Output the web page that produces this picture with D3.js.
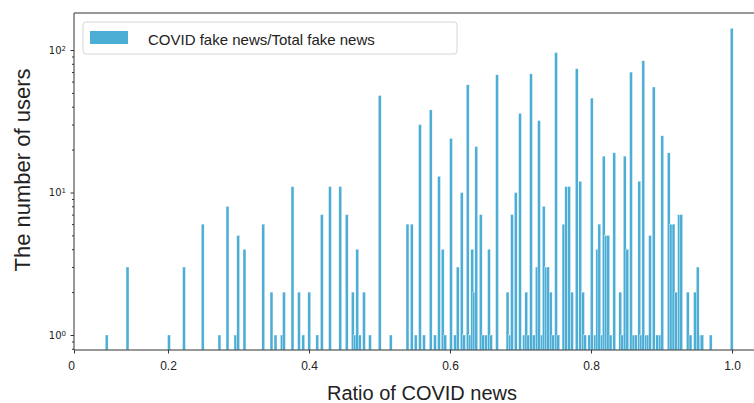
<!DOCTYPE html>
<html>
<head>
<meta charset="utf-8">
<script src="https://cdn.jsdelivr.net/npm/d3@7/dist/d3.min.js"></script>
<style>
  html, body { margin: 0; padding: 0; background: #fff; }
  svg { display: block; font-family: "Liberation Sans", Arial, sans-serif; }
</style>
</head>
<body>
<svg id="chart" width="754" height="403"></svg>
<script>
// Ratio of COVID fake news to total fake news per user (histogram bins, log counts)
const ratios = [
  0.1130, 0.1426, 0.2014, 0.2227, 0.2492, 0.2730, 0.2844, 0.2957, 0.2996, 0.3085,
  0.3352, 0.3468, 0.3525, 0.3614, 0.3645, 0.3766, 0.3858, 0.3919, 0.4004, 0.4118,
  0.4182, 0.4298, 0.4444, 0.4535, 0.4621, 0.4655, 0.4685, 0.4719, 0.4780, 0.4865,
  0.5003, 0.5159, 0.5397, 0.5457, 0.5513, 0.5574, 0.5631, 0.5726, 0.5787, 0.5844,
  0.5896, 0.5933, 0.6014, 0.6071, 0.6109, 0.6166, 0.6199, 0.6251, 0.6284, 0.6316,
  0.6345, 0.6373, 0.6436, 0.6472, 0.6511, 0.6553, 0.6582, 0.6667, 0.6816, 0.6851,
  0.6879, 0.6932, 0.6993, 0.7050, 0.7082, 0.7111, 0.7149, 0.7187, 0.7230, 0.7262,
  0.7301, 0.7329, 0.7357, 0.7390, 0.7428, 0.7465, 0.7504, 0.7536, 0.7610, 0.7648,
  0.7690, 0.7730, 0.7797, 0.7848, 0.7887, 0.7915, 0.7976, 0.8010, 0.8057, 0.8089,
  0.8118, 0.8152, 0.8180, 0.8213, 0.8245, 0.8277, 0.8330, 0.8415, 0.8444, 0.8478,
  0.8515, 0.8567, 0.8603, 0.8638, 0.8685, 0.8709, 0.8742, 0.8780, 0.8809, 0.8837,
  0.8889, 0.8940, 0.8976, 0.9011, 0.9102, 0.9135, 0.9170, 0.9206, 0.9248, 0.9280,
  0.9372, 0.9411, 0.9475, 0.9513, 0.9556, 0.9578, 0.9697, 0.9995
];
const userCounts = [
  1, 3, 1, 3, 6, 1, 8, 1, 5, 4,
  6, 2, 1, 1, 2, 11, 2, 1, 2, 1,
  7, 11, 11, 7, 2, 1, 4, 1, 2, 1,
  48, 1, 6, 6, 1, 30, 1, 38, 1, 13,
  4, 1, 24, 1, 3, 10, 1, 57, 1, 4,
  2, 21, 7, 1, 1, 4, 1, 67, 2, 1,
  7, 10, 36, 1, 2, 1, 68, 1, 3, 32,
  1, 8, 3, 3, 2, 1, 96, 1, 6, 11,
  11, 2, 74, 12, 2, 1, 1, 46, 1, 4,
  6, 1, 18, 5, 5, 1, 19, 2, 1, 18,
  4, 70, 1, 1, 12, 1, 84, 1, 1, 5,
  55, 1, 1, 25, 19, 6, 6, 2, 7, 7,
  2, 1, 2, 3, 1, 1, 1, 142
];
const binWidth = 0.0042;

const xTickValues = [0.2, 0.4, 0.6, 0.8, 1.0];
const yTickValues = [1, 10, 100];
const yMinorTicks = [0.8, 0.9, 2, 3, 4, 5, 6, 7, 8, 9, 20, 30, 40, 50, 60, 70, 80, 90];
const legendLabel = "COVID fake news/Total fake news";
const xTitle = "Ratio of COVID news";
const yTitle = "The number of users";

const barColor = "#4cadd5";
const axisColor = "#333";

const svg = d3.select("#chart");
const plot = { left: 74, right: 756, top: 13, bottom: 350 };

const xMin = 0.0667, xMax = 1.034;
const x = d3.scaleLinear().domain([xMin, xMax]).range([plot.left, plot.right]);
const y = d3.scaleLog().domain([0.7847, 181.8]).range([plot.bottom, plot.top]);

const bins = ratios.map((r, i) => ({ r, n: userCounts[i] }));

svg.append("defs").append("clipPath").attr("id", "plotClip")
  .append("rect")
  .attr("x", plot.left).attr("y", plot.top)
  .attr("width", plot.right - plot.left).attr("height", plot.bottom - plot.top);

// bars
svg.append("g").attr("clip-path", "url(#plotClip)")
  .selectAll("rect").data(bins).join("rect")
  .attr("x", d => x(d.r - binWidth / 2))
  .attr("width", d => x(d.r + binWidth / 2) - x(d.r - binWidth / 2))
  .attr("y", d => y(d.n))
  .attr("height", d => plot.bottom - y(d.n))
  .attr("fill", barColor)
  .attr("stroke", "#fff")
  .attr("stroke-width", 0.4);

// x axis
const xAxis = d3.axisBottom(x)
  .tickValues([xMin].concat(xTickValues))
  .tickSize(3.5)
  .tickPadding(8)
  .tickFormat(d => d === xMin ? "0" : d3.format(".1f")(d));
const gx = svg.append("g").attr("transform", `translate(0,${plot.bottom})`).call(xAxis);
gx.select(".domain").remove();
gx.selectAll(".tick line").attr("stroke", axisColor);
gx.selectAll(".tick text").attr("fill", "#222").style("font-size", "12px")
  .attr("dx", d => d === xMin ? -3 : 0);

// y axis (major)
const yAxis = d3.axisLeft(y).tickValues(yTickValues).tickSize(3.5).tickPadding(5).tickFormat("");
const gy = svg.append("g").attr("transform", `translate(${plot.left},0)`).call(yAxis);
gy.select(".domain").remove();
gy.selectAll(".tick line").attr("stroke", axisColor);
gy.selectAll(".tick").append("text")
  .attr("x", -8).attr("dy", "0.35em")
  .attr("text-anchor", "end")
  .attr("fill", "#222")
  .style("font-family", "DejaVu Sans, sans-serif")
  .style("font-size", "10px")
  .each(function (d) {
    const t = d3.select(this);
    t.append("tspan").text("10");
    t.append("tspan").attr("dy", "-0.45em").style("font-size", "7px")
      .text(String(Math.round(Math.log10(d))));
  });

// y axis (minor)
const yMinor = d3.axisLeft(y).tickValues(yMinorTicks).tickSize(2).tickFormat("");
const gym = svg.append("g").attr("transform", `translate(${plot.left},0)`).call(yMinor);
gym.select(".domain").remove();
gym.selectAll(".tick line").attr("stroke", axisColor);

// frame
const frame = svg.append("g").attr("stroke", axisColor).attr("stroke-width", 1).attr("fill", "none");
frame.append("line").attr("x1", plot.left).attr("x2", plot.right).attr("y1", plot.bottom).attr("y2", plot.bottom);
frame.append("line").attr("x1", plot.left).attr("x2", plot.right).attr("y1", plot.top).attr("y2", plot.top);
frame.append("line").attr("x1", plot.left).attr("x2", plot.left).attr("y1", plot.top).attr("y2", plot.bottom);

// titles
svg.append("text")
  .attr("x", 422).attr("y", 400)
  .attr("text-anchor", "middle")
  .attr("fill", "#222")
  .style("font-size", "20px")
  .text(xTitle);
svg.append("text")
  .attr("transform", `translate(30,${170}) rotate(-90)`)
  .attr("text-anchor", "middle")
  .attr("fill", "#222")
  .style("font-size", "22px")
  .text(yTitle);

// legend
const lg = svg.append("g");
lg.append("rect")
  .attr("x", 83).attr("y", 22).attr("width", 374).attr("height", 32)
  .attr("rx", 3).attr("fill", "#fff").attr("stroke", "#d6d6d6");
lg.append("rect")
  .attr("x", 90).attr("y", 31).attr("width", 38).attr("height", 13)
  .attr("fill", barColor);
lg.append("text")
  .attr("x", 148).attr("y", 45)
  .attr("fill", "#222")
  .style("font-size", "15px")
  .text(legendLabel);
</script>
</body>
</html>
